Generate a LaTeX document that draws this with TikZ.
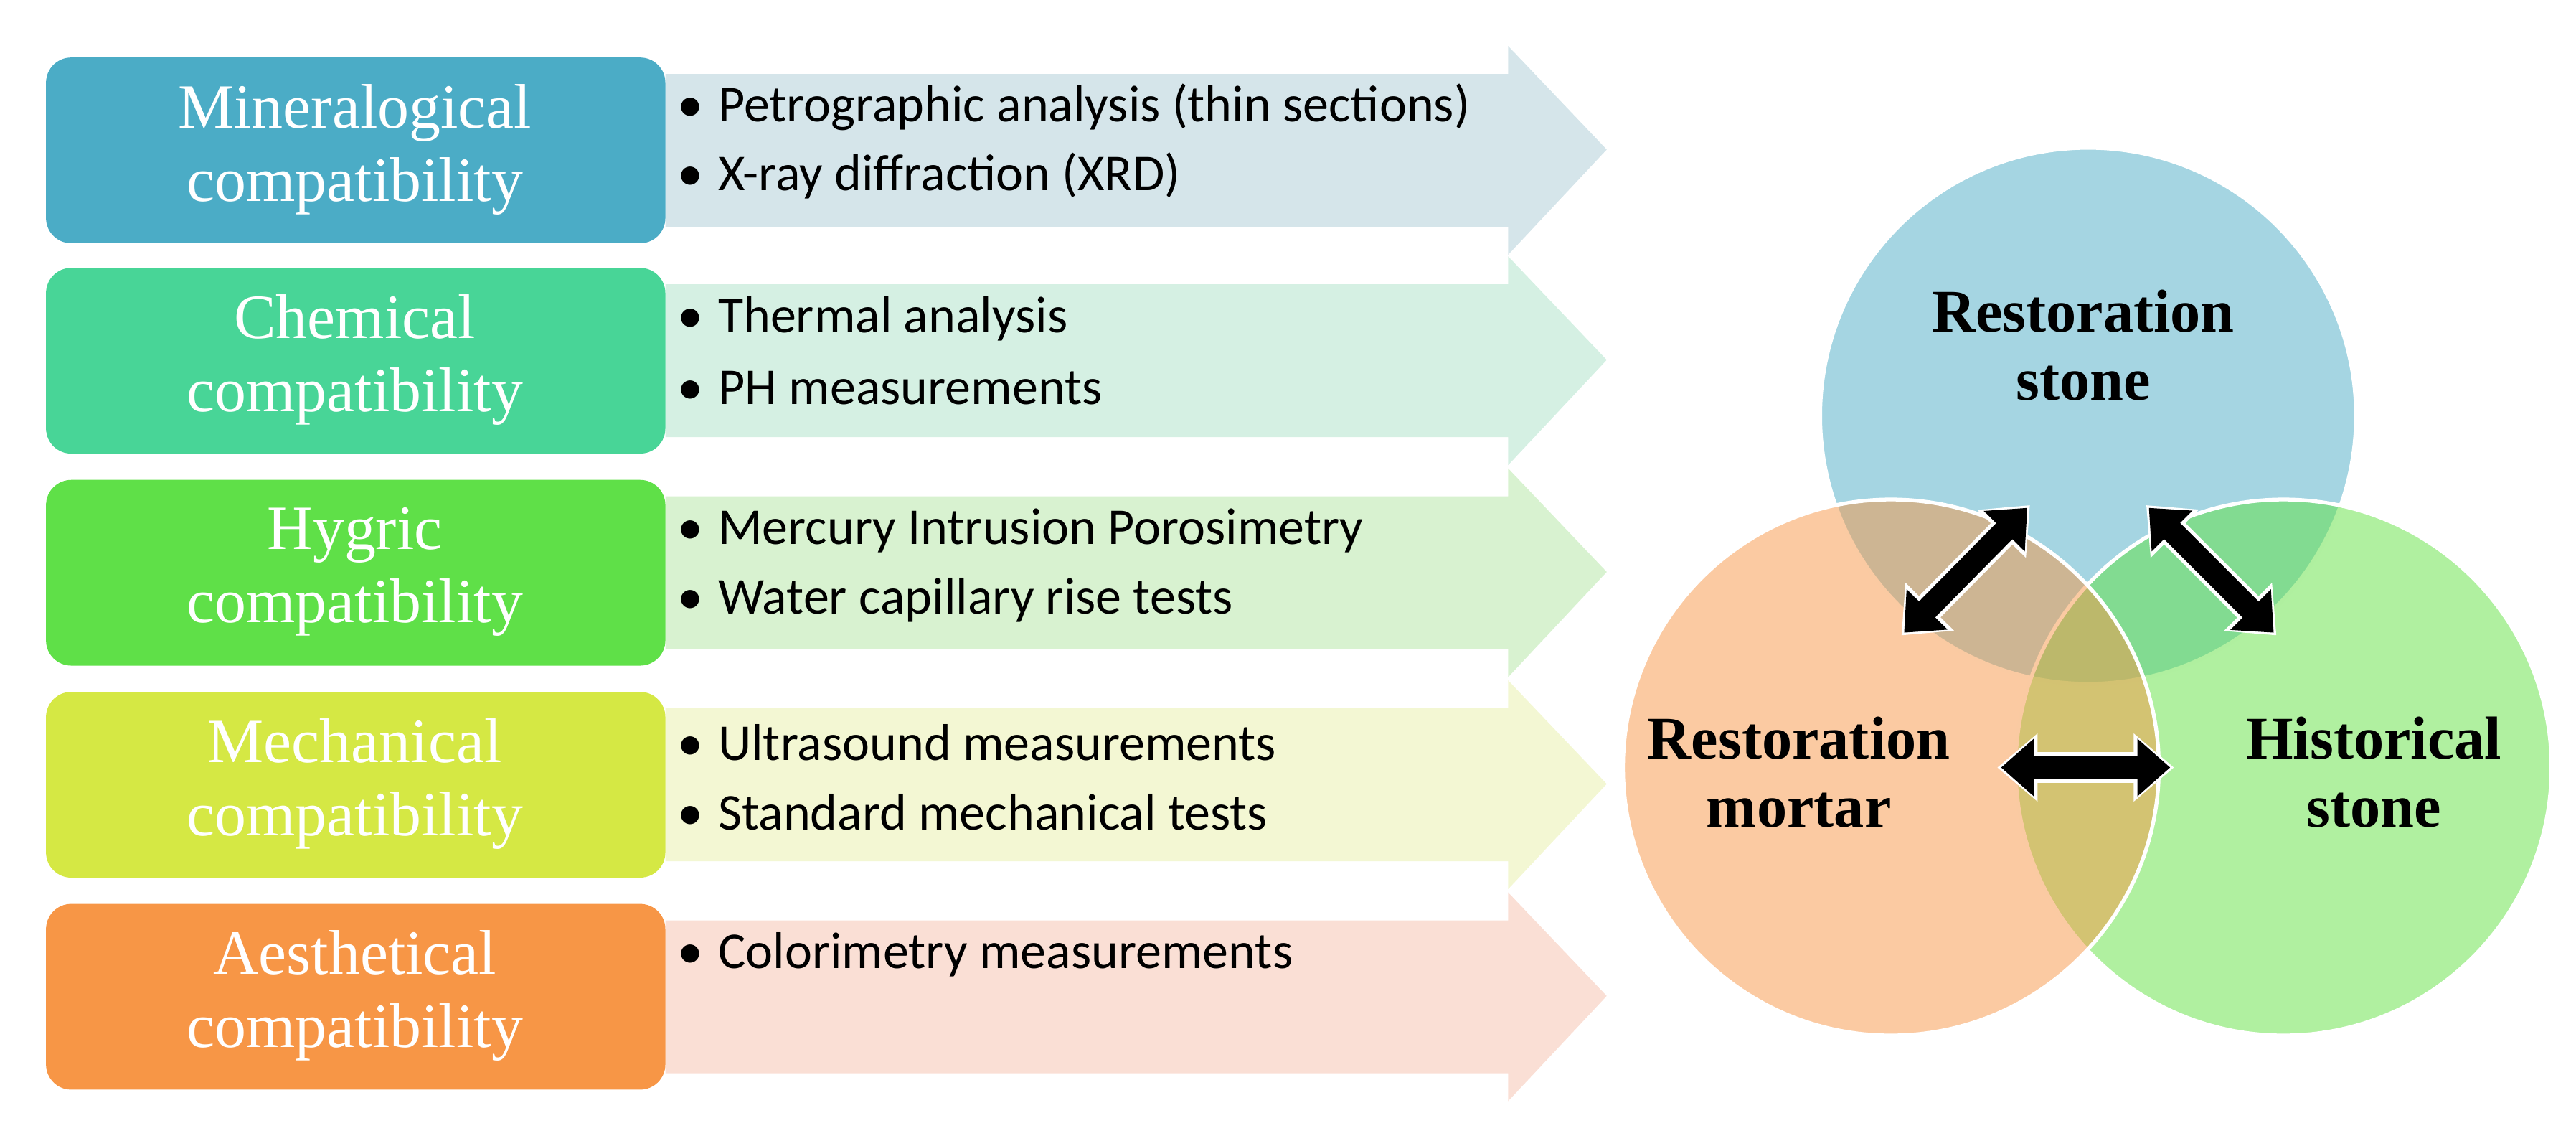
\documentclass[tikz,border=0pt]{standalone}
\usepackage{fontspec}
\setmainfont{Liberation Serif}
\newfontfamily\calib{Carlito}
\usetikzlibrary{arrows.meta, calc}
\definecolor{minC}{HTML}{4BACC6}
\definecolor{cheC}{HTML}{48D597}
\definecolor{hygC}{HTML}{5FE048}
\definecolor{mecC}{HTML}{D5E844}
\definecolor{aesC}{HTML}{F79646}
\definecolor{minL}{HTML}{D5E5EA}
\definecolor{cheL}{HTML}{D5F0E3}
\definecolor{hygL}{HTML}{D8F2D0}
\definecolor{mecL}{HTML}{F3F7D3}
\definecolor{aesL}{HTML}{FADFD5}
\definecolor{stoneC}{HTML}{4BACC6}
\definecolor{mortC}{HTML}{F79646}
\definecolor{histC}{HTML}{61E141}

\begin{document}
\begin{tikzpicture}[
        x=0.0229cm, y=-0.0229cm,
        cat/.style={rounded corners=10pt, fill=#1},
        lbl/.style={text=white, align=center, font=\fontsize{25}{29}\selectfont},
        item/.style={anchor=west, inner sep=0pt, font=\calib\fontsize{20.5}{22}\selectfont},
        venn/.style={circle, minimum size=7.47cm, inner sep=0pt, fill=#1, fill opacity=0.5, draw=white, line width=1.5pt, text opacity=1},
        vlbl/.style={align=center, font=\bfseries\fontsize{24}{27}\selectfont},
        link/.style={line width=#1, {Triangle[width=26pt,length=16pt]}-{Triangle[width=26pt,length=16pt]}}
    ]
    \useasboundingbox (0,0) rectangle (1568,694);
    % categories and arrows
    \foreach \t/\c/\n/\txt in {35/min/mineral/Mineralogical,163/che/chemical/Chemical,292/hyg/hygric/Hygric,421/mec/mechanical/Mechanical,550/aes/aesthetic/Aesthetical} {
        \fill[\c L] (405,\t+10) -- (918,\t+10) -- (918,\t-7) -- (978,\t+56) -- (918,\t+120) -- (918,\t+103) -- (405,\t+103) -- cycle;
        \fill[cat=\c C] (28,\t) rectangle (405,\t+113);
        \node[lbl] (\n) at (216,\t+56) {\txt\\compatibility};
    }
    % bullet lists
    \node[item] (m1) at (412,65) {\textbullet\hspace{6pt}Petrographic analysis (thin sections)};
    \node[item] (m2) at (412,107) {\textbullet\hspace{6pt}X-ray diffraction (XRD)};
    \node[item] (c1) at (412,194) {\textbullet\hspace{6pt}Thermal analysis};
    \node[item] (c2) at (412,236) {\textbullet\hspace{6pt}PH measurements};
    \node[item] (h1) at (412,323) {\textbullet\hspace{6pt}Mercury Intrusion Porosimetry};
    \node[item] (h2) at (412,365) {\textbullet\hspace{6pt}Water capillary rise tests};
    \node[item] (e1) at (412,452) {\textbullet\hspace{6pt}Ultrasound measurements};
    \node[item] (e2) at (412,494) {\textbullet\hspace{6pt}Standard mechanical tests};
    \node[item] (a1) at (412,581) {\textbullet\hspace{6pt}Colorimetry measurements};
    % venn circles
    \node[venn=stoneC] (stone) at (1271,253) {};
    \node[venn=histC] (hist) at (1390,467) {};
    \node[venn=mortC] (mort) at (1151,467) {};
    \node[vlbl] at (1268,210) {Restoration\\stone};
    \node[vlbl] at (1095,470) {Restoration\\mortar};
    \node[vlbl] at (1445,470) {Historical\\stone};
    % links
    \coordinate (sm1) at (1234,309);
    \coordinate (sm2) at (1159,385);
    \coordinate (sh1) at (1308,309);
    \coordinate (sh2) at (1384,385);
    \coordinate (mh1) at (1218,467);
    \coordinate (mh2) at (1321,467);
    \foreach \p/\q in {sm1/sm2,sh1/sh2,mh1/mh2} {
        \draw[link=12pt, white, shorten <=-1.5pt, shorten >=-1.5pt] (\p) -- (\q);
        \draw[link=9pt, black, {Triangle[width=22pt,length=13pt]}-{Triangle[width=22pt,length=13pt]}] (\p) -- (\q);
    }
\end{tikzpicture}
\end{document}
